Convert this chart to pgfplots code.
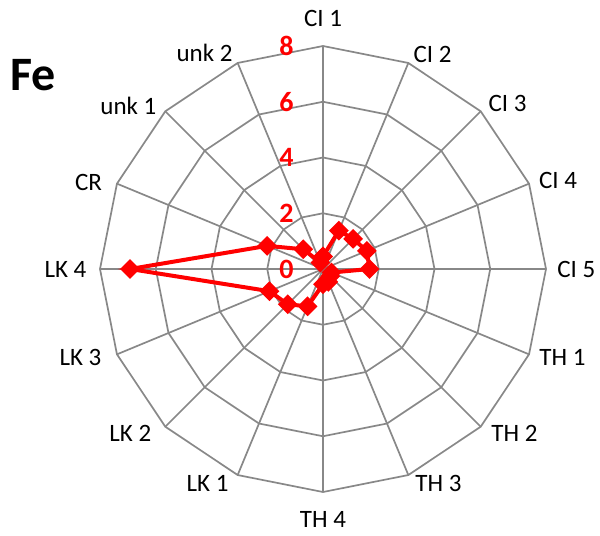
\documentclass[border=0pt]{standalone}
\usepackage{fontspec}
\setmainfont{Carlito}
\usepackage{pgfplots}
\pgfplotsset{compat=1.18}
\usepackage{pgfplotstable}
\definecolor{gridgray}{HTML}{888888}
\definecolor{datared}{HTML}{FF0000}

% angle (deg), value; categories clockwise from CI 1 at the top
\pgfplotstableread{
ang  val
90    0.45
67.5  1.49
45    1.53
22.5  1.70
0     1.67
-22.5 0.33
-45   0.37
-67.5 0.50
-90   0.55
-112.5 1.45
-135  1.79
-157.5 2.08
-180  6.92
-202.5 2.17
-225  1.00
-247.5 0.25
-270  0.45
}\fedata

\begin{document}
\begin{tikzpicture}
\begin{axis}[
  hide axis, clip=false,
  x=13.94pt, y=13.94pt,
  xmin=-8, xmax=8, ymin=-8, ymax=8,
  gridline/.style={gridgray, line width=0.85pt, no marks, forget plot},
]
% polygon rings
\pgfplotsinvokeforeach{2,4,6,8}{
  \addplot[gridline, data cs=polar] coordinates {(0,#1)(22.5,#1)(45,#1)(67.5,#1)(90,#1)(112.5,#1)(135,#1)(157.5,#1)(180,#1)(202.5,#1)(225,#1)(247.5,#1)(270,#1)(292.5,#1)(315,#1)(337.5,#1)(360,#1)};
}
% spokes
\addplot[gridline, data cs=polar] coordinates {(0,8)(180,8)};
\addplot[gridline, data cs=polar] coordinates {(22.5,8)(202.5,8)};
\addplot[gridline, data cs=polar] coordinates {(45,8)(225,8)};
\addplot[gridline, data cs=polar] coordinates {(67.5,8)(247.5,8)};
\addplot[gridline, data cs=polar] coordinates {(90,8)(270,8)};
\addplot[gridline, data cs=polar] coordinates {(112.5,8)(292.5,8)};
\addplot[gridline, data cs=polar] coordinates {(135,8)(315,8)};
\addplot[gridline, data cs=polar] coordinates {(157.5,8)(337.5,8)};
% data
\addplot[datared, line width=2pt, data cs=polar, mark=square*,
  mark size=2.5pt, mark options={rotate=45, fill=datared, solid}]
  table[x=ang, y=val] {\fedata};

% radial value labels
\pgfplotsinvokeforeach{0,2,4,6,8}{
  \node[text=datared, font=\bfseries\fontsize{14}{16}\selectfont] at (axis cs:-1.31,#1) {#1};
}
% category labels
\begin{scope}[every node/.style={font=\fontsize{12.5}{15}\selectfont, text=black}]
\node at (axis cs:0,9.00) {CI 1};
\node at (axis cs:3.93,7.71) {CI 2};
\node at (axis cs:6.62,5.92) {CI 3};
\node at (axis cs:8.43,3.16) {CI 4};
\node at (axis cs:9.09,0) {CI 5};
\node at (axis cs:8.59,-3.17) {TH 1};
\node at (axis cs:6.87,-5.89) {TH 2};
\node at (axis cs:4.14,-7.68) {TH 3};
\node at (axis cs:0,-9.00) {TH 4};
\node at (axis cs:-4.14,-7.68) {LK 1};
\node at (axis cs:-6.91,-5.89) {LK 2};
\node at (axis cs:-8.70,-3.17) {LK 3};
\node at (axis cs:-9.24,0) {LK 4};
\node at (axis cs:-8.41,3.09) {CR};
\node at (axis cs:-6.98,5.85) {unk 1};
\node at (axis cs:-4.25,7.75) {unk 2};
\end{scope}
\node[font=\bfseries\fontsize{24}{28}\selectfont] at (axis cs:-10.40,6.96) {Fe};

\coordinate (BL) at (axis cs:-11.587,-9.543);
\coordinate (TR) at (axis cs:9.937,9.650);
\end{axis}
\pgfresetboundingbox
\path[use as bounding box] (BL) rectangle (TR);
\end{tikzpicture}
\end{document}
